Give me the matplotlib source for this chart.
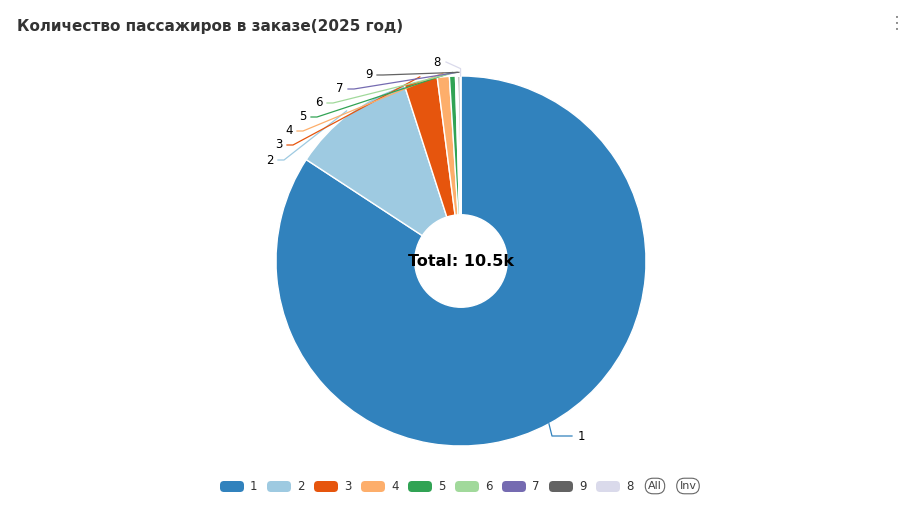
import matplotlib.pyplot as plt
from matplotlib.patches import Circle, FancyBboxPatch

labels = ['1', '2', '3', '4', '5', '6', '7', '9', '8']
values = [8840, 1135, 305, 110, 55, 12, 10, 20, 8]
colors = ['#3182bd', '#9ecae1', '#e6550d', '#fdae6b', '#31a354', '#a1d99b', '#756bb1', '#636363', '#dadaeb']
legend_order = ['1', '2', '3', '4', '5', '6', '7', '9', '8']
title = 'Количество пассажиров в заказе(2025 год)'
total_text = 'Total: 10.5k'

W, H = 922, 518
fig = plt.figure(figsize=(W/100, H/100), dpi=100)
fig.patch.set_facecolor('white')
cx, cy, R = 461, 261, 185
ax = fig.add_axes([(cx-R)/W, (H-cy-R)/H, 2*R/W, 2*R/H])
wedges, _ = ax.pie(values, colors=colors, startangle=90, counterclock=False,
                   radius=1, wedgeprops=dict(linewidth=1, edgecolor='white'))
ax.set_xlim(-1, 1); ax.set_ylim(-1, 1); ax.set_aspect('equal'); ax.axis('off')
ax.add_patch(Circle((0, 0), 0.25, color='white', zorder=5))
ax.text(0, 0, total_text, ha='center', va='center', fontsize=11.5, fontweight='bold', zorder=6)

import numpy as np
def d(px, py):
    return ((px-cx)/R, (cy-py)/R)
label_pos = {'1': (578, 436), '2': (270, 160), '3': (279, 145), '4': (289, 131), '5': (303, 117),
             '6': (319, 103), '7': (340, 89), '9': (369, 75), '8': (437, 62)}
for w, lab, col in zip(wedges, labels, colors):
    ang = np.deg2rad((w.theta1 + w.theta2) / 2)
    sx, sy = np.cos(ang), np.sin(ang)
    px, py = label_pos[lab]
    if lab == '1':
        pts = [(sx, sy), d(552, 436), d(572, 436)]
        tx = d(px, py); ha = 'left'
    elif lab == '8':
        pts = [(sx, sy), (sx, sy + 0.04), d(446, 62)]
        tx = d(px, py); ha = 'center'
    else:
        pts = [(sx*1.02, sy*1.02), d(px + 14, py), d(px + 8, py)]
        tx = d(px, py); ha = 'center'
    xs, ys = zip(*pts)
    ax.plot(xs, ys, color=col, lw=0.9, clip_on=False)
    ax.text(*tx, lab, ha=ha, va='center', fontsize=8.5, clip_on=False)

fig.text(17/W, 1 - 27/H, title, fontsize=11, fontweight='bold', color='#333333', va='center')
for i in range(3):
    fig.text(897/W, 1 - (18 + i*6)/H, '•', fontsize=5, color='#777777', ha='center', va='center')

# legend
lax = fig.add_axes([0, 0, 1, 1]); lax.set_xlim(0, W); lax.set_ylim(H, 0); lax.axis('off')
x = 220
for lab in legend_order:
    col = colors[labels.index(lab)]
    lax.add_patch(FancyBboxPatch((x, 481), 24, 11, boxstyle='round,pad=0,rounding_size=4', fc=col, ec='none'))
    lax.text(x + 30, 486, lab, fontsize=8.5, va='center', color='#333333')
    x += 47
for txt, xx in [('All', 655), ('Inv', 688)]:
    lax.text(xx, 486, txt, fontsize=8, va='center', ha='center', color='#444444',
             bbox=dict(boxstyle='round,pad=0.25,rounding_size=0.7', fc='white', ec='#666666', lw=0.8))
fig.savefig('out.png', dpi=100)
